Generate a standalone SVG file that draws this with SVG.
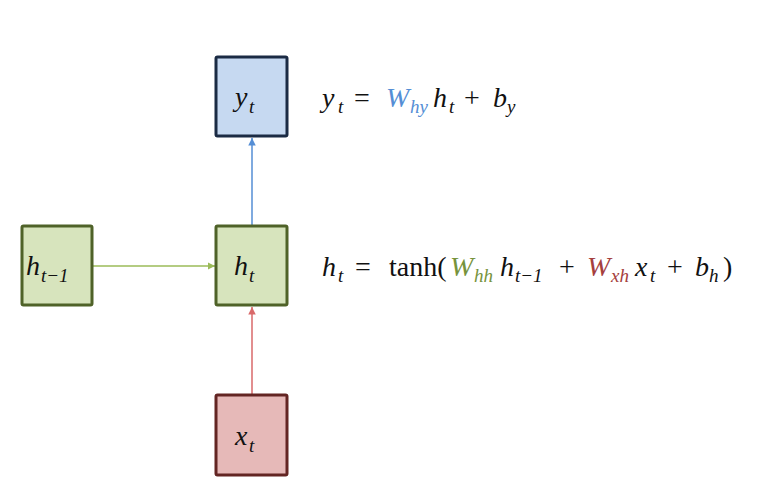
<svg xmlns="http://www.w3.org/2000/svg" width="759" height="490" viewBox="0 0 759 490">
<style>
text{font-family:'Liberation Serif',serif;font-style:italic;font-size:28px;fill:#111}
.r{font-style:normal}
.s{font-size:19px}
.box{stroke-width:3}
.y{fill:#c6d9f1;stroke:#1b2b44}
.h{fill:#d7e4bd;stroke:#4f6228}
.x{fill:#e6b9b8;stroke:#632523}
</style>
<defs>
<marker id="ab" viewBox="0 0 10 10" refX="10" refY="5" markerWidth="5" markerHeight="5" orient="auto"><path d="M0,0L10,5L0,10z" fill="#558ed5"/></marker>
<marker id="ag" viewBox="0 0 10 10" refX="10" refY="5" markerWidth="5" markerHeight="5" orient="auto"><path d="M0,0L10,5L0,10z" fill="#9bbb59"/></marker>
<marker id="ar" viewBox="0 0 10 10" refX="10" refY="5" markerWidth="5" markerHeight="5" orient="auto"><path d="M0,0L10,5L0,10z" fill="#d9696a"/></marker>
</defs>
<g id="connectors">
<line x1="252" y1="226" x2="252" y2="138" stroke="#558ed5" stroke-width="1.5" marker-end="url(#ab)"/>
<line x1="93" y1="266" x2="215" y2="266" stroke="#9bbb59" stroke-width="1.5" marker-end="url(#ag)"/>
<line x1="252" y1="394" x2="252" y2="307" stroke="#d9696a" stroke-width="1.5" marker-end="url(#ar)"/>
</g>
<g id="node-yt">
<rect class="box y" x="216" y="57" width="71" height="79" rx="1.5"/>
<text x="235" y="106">y<tspan class="s" x="249" y="113">t</tspan></text>
</g>
<g id="node-htm1">
<rect class="box h" x="22" y="226" width="70" height="79" rx="1.5"/>
<text x="26" y="275">h<tspan class="s" x="41" y="282">t−1</tspan></text>
</g>
<g id="node-ht">
<rect class="box h" x="216" y="226" width="71" height="79" rx="1.5"/>
<text x="234" y="275">h<tspan class="s" x="249" y="282">t</tspan></text>
</g>
<g id="node-xt">
<rect class="box x" x="216" y="395" width="71" height="80" rx="1.5"/>
<text x="235" y="445">x<tspan class="s" x="249" y="452">t</tspan></text>
</g>
<g id="eq-y">
<text y="107"><tspan x="322">y</tspan><tspan class="s" x="338" y="113">t</tspan><tspan class="r" x="354" y="107">=</tspan><tspan x="386" fill="#558ed5">W</tspan><tspan class="s" x="410" y="113" fill="#558ed5">hy</tspan><tspan x="433" y="107">h</tspan><tspan class="s" x="449" y="113">t</tspan><tspan class="r" x="464" y="107">+</tspan><tspan x="493">b</tspan><tspan class="s" x="507" y="113">y</tspan></text>
</g>
<g id="eq-h">
<text y="276"><tspan x="322">h</tspan><tspan class="s" x="338" y="282">t</tspan><tspan class="r" x="355" y="276">=</tspan><tspan class="r" x="389">tanh(</tspan><tspan x="450" fill="#77933c">W</tspan><tspan class="s" x="474" y="282" fill="#77933c">hh</tspan><tspan x="500" y="276">h</tspan><tspan class="s" x="515" y="282">t−1</tspan><tspan class="r" x="559" y="276">+</tspan><tspan x="587" fill="#a5403e">W</tspan><tspan class="s" x="611" y="282" fill="#a5403e">xh</tspan><tspan x="635" y="276">x</tspan><tspan class="s" x="650" y="282">t</tspan><tspan class="r" x="667" y="276">+</tspan><tspan x="695">b</tspan><tspan class="s" x="709" y="282">h</tspan><tspan class="r" x="723" y="276">)</tspan></text>
</g>
</svg>
